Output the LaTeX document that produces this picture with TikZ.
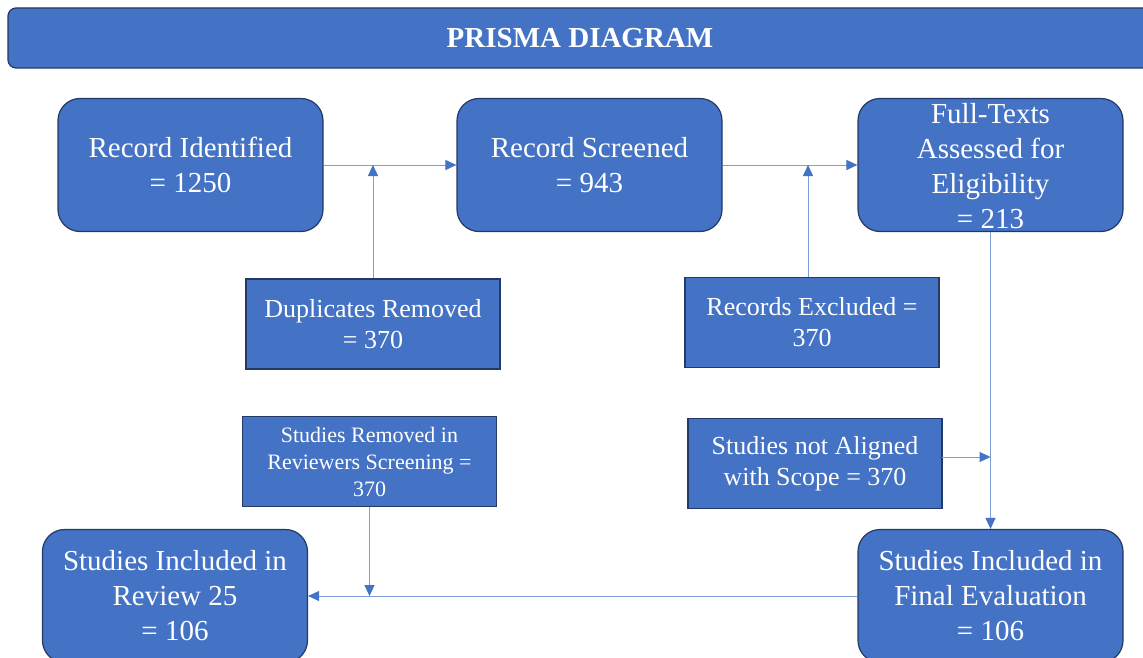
\documentclass[tikz,border=0pt]{standalone}
\usepackage{fontspec}
\setmainfont{Liberation Serif}
\usetikzlibrary{arrows.meta}
\definecolor{boxblue}{HTML}{4472C4}
\definecolor{boxedge}{HTML}{233A66}
\definecolor{linkblue}{HTML}{7E9ED8}

\begin{document}
\begin{tikzpicture}[x=1pt,y=-1pt,
  box/.style={draw=boxedge, line width=1.2pt, fill=boxblue, text=white, align=center, inner sep=0pt},
  roundbox/.style={box, rounded corners=22pt, minimum width=265pt, minimum height=133pt, font=\fontsize{29}{35}\selectfont},
  sidebox/.style={box, minimum width=254pt, minimum height=90pt, font=\fontsize{26}{31}\selectfont},
  link/.style={draw=linkblue, line width=1pt, -{Triangle[length=11pt,width=10pt,color=boxblue]}}
]
% page frame
\fill[white] (0,0) rectangle (1143,658);
\useasboundingbox (0,0) rectangle (1143,658);

% title bar
\node[box, rounded corners=8pt, minimum width=1144pt, minimum height=60pt,
      font=\fontsize{29}{34}\selectfont\bfseries] (title) at (580,38) {PRISMA DIAGRAM};

% main flow
\node[roundbox] (ident)  at (190.5,165) {Record Identified\\= 1250};
\node[roundbox] (screen) at (589.5,165) {Record Screened\\= 943};
\node[roundbox] (full)   at (990.5,165) {};
\node[text=white, align=center, inner sep=0pt, font=\fontsize{29}{35}\selectfont] (fulltext) at (990.5,166)
  {Full-Texts\\Assessed for\\Eligibility\\= 213};

% exclusions
\node[sidebox] (dup)    at (373,324)   {Duplicates Removed\\= 370};
\node[sidebox] (excl)   at (812,322.5) {Records Excluded =\\370};
\node[sidebox, font=\fontsize{22}{27}\selectfont] (revscr) at (369.5,461.5)
  {Studies Removed in\\Reviewers Screening =\\370};
\node[sidebox] (scope)  at (815,463.5) {Studies not Aligned\\with Scope = 370};

% results
\node[roundbox] (review) at (175,596)   {Studies Included in\\Review 25\\= 106};
\node[roundbox] (final)  at (990.5,596) {Studies Included in\\Final Evaluation\\= 106};

% connector anchors
\coordinate (exclTop) at (808,277);
\coordinate (scopeOut) at (942,457);

% connectors
\draw[link] (ident.east) -- (screen.west);
\draw[link] (dup.north) -- (dup.north |- ident.east);
\draw[link] (screen.east) -- (full.west);
\draw[link] (exclTop) -- (exclTop |- screen.east);
\draw[link] (full.south) -- (final.north);
\draw[link] (scopeOut) -- (scopeOut -| full.south);
\draw[link] (final.west) -- (review.east);
\draw[link] (revscr.south) -- (revscr.south |- review.east);
\end{tikzpicture}
\end{document}
